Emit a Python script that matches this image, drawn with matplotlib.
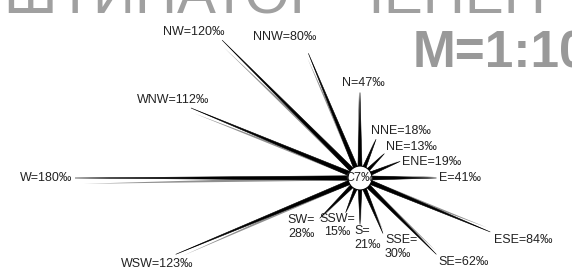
import numpy as np
import matplotlib
matplotlib.use("Agg")
import matplotlib.pyplot as plt
from matplotlib.patches import Polygon, Circle

plt.rcParams['font.family'] = ['Liberation Sans', 'DejaVu Sans']

# wind rose data (per mille)
directions = ["N", "NNE", "NE", "ENE", "E", "ESE", "SE", "SSE",
              "S", "SSW", "SW", "WSW", "W", "WNW", "NW", "NNW"]
values = [47, 18, 13, 19, 41, 84, 62, 30, 21, 15, 28, 123, 180, 112, 120, 80]
calm = 7
title_top = "ШТИНАТОР ЧЕНЕН"
scale_text = "M=1:100"

fig = plt.figure(figsize=(5.72, 2.70), dpi=100)
ax = fig.add_axes([0, 0, 1, 1])
ax.set_xlim(0, 572)
ax.set_ylim(270, 0)
ax.set_aspect('equal')
ax.axis('off')

cx, cy = 360, 178
r0, k = 15, 1.5  # px offset and px per mille

# label placement: (dx, dy, ha, va, two-line)
lab = {
    "N": (3, -3, "center", "bottom", False),
    "NNE": (-5, -2, "left", "bottom", False),
    "NE": (2, -1, "left", "bottom", False),
    "ENE": (2, 1, "left", "center", False),
    "E": (3, 0, "left", "center", False),
    "ESE": (4, 2, "left", "top", False),
    "SE": (2, 2, "left", "top", False),
    "SSE": (2, 1, "left", "top", True),
    "S": (-6, 1, "left", "top", True),
    "SSW": (-8, 0, "center", "top", True),
    "SW": (-5, -4, "right", "top", True),
    "WSW": (-18, 4, "center", "top", False),
    "W": (-3, 0, "right", "center", False),
    "WNW": (-18, -2, "center", "bottom", False),
    "NW": (-28, -2, "center", "bottom", False),
    "NNW": (-24, -10, "center", "bottom", False),
}

for i, (d, v) in enumerate(zip(directions, values)):
    a = np.deg2rad(90 - 22.5 * i)
    r = r0 + k * v
    ux, uy = np.cos(a), -np.sin(a)
    px, py = -uy, ux
    w = 2.3
    tip = (cx + ux * r, cy + uy * r)
    # grey shadow spike
    a2 = a + np.deg2rad(1.2)
    u2x, u2y = np.cos(a2), -np.sin(a2)
    ax.add_patch(Polygon([(cx + px * w, cy + py * w), (cx + u2x * r * 0.97, cy + u2y * r * 0.97),
                          (cx - px * w, cy - py * w)], closed=True, fc='#909090', ec='none', zorder=1))
    ax.add_patch(Polygon([(cx + px * w, cy + py * w), tip, (cx - px * w, cy - py * w)],
                         closed=True, fc='black', ec='black', lw=0.4, zorder=2))
    dx, dy, ha, va, two = lab[d]
    txt = f"{d}=\n{v}‰" if two else f"{d}={v}‰"
    ax.text(tip[0] + dx, tip[1] + dy, txt, ha=ha, va=va, fontsize=9,
            color='#222222', linespacing=1.2, zorder=4)

ax.add_patch(Circle((cx, cy), 12, fc='white', ec='black', lw=0.8, zorder=3))
ax.text(cx, cy, f"C{calm}‰", ha='center', va='center', fontsize=9, color='#222222', zorder=4)

ax.text(4, 13, title_top, ha='left', va='baseline', fontsize=42, color='#a0a0a0')
ax.text(413, 67, scale_text, ha='left', va='baseline', fontsize=37,
        fontweight='bold', color='#999999')

fig.savefig("out.png", dpi=100)
